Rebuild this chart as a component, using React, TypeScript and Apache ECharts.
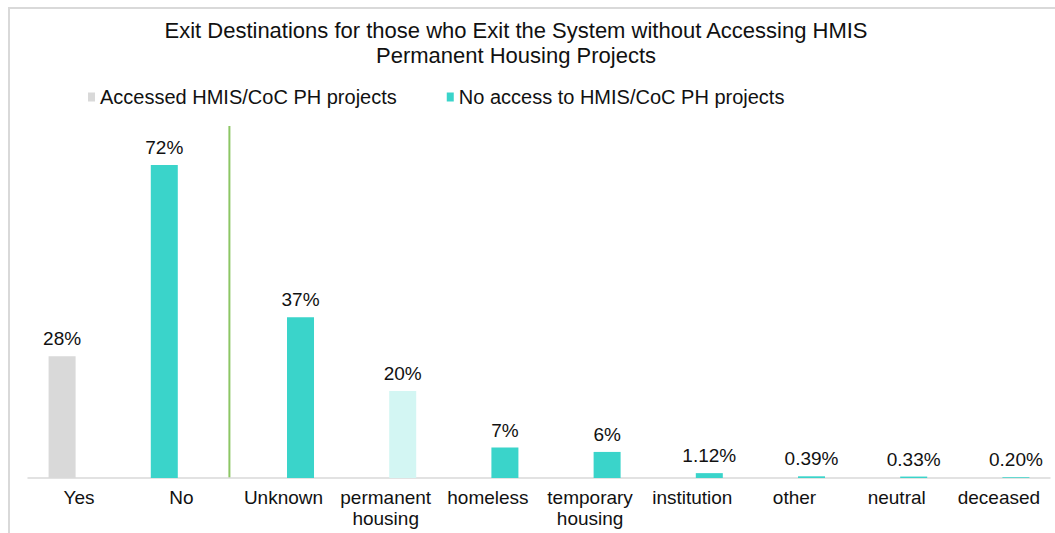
import React, { useEffect, useRef } from "react";
import * as echarts from "echarts";

// Exit destination categories along the x axis
const categories = [
  "Yes",
  "No",
  "Unknown",
  "permanent\nhousing",
  "homeless",
  "temporary\nhousing",
  "institution",
  "other",
  "neutral",
  "deceased",
];

// Left-slot series: share who did / did not access PH projects (%)
const accessValues: (number | null)[] = [28, 72, null, null, null, null, null, null, null, null];

// Right-slot series: exit destinations of those without access (%)
const destinationValues: (number | null)[] = [null, null, 37, 20, 7, 6, 1.12, 0.39, 0.33, 0.2];

const GREY = "#d9d9d9";
const TEAL = "#3ad4ca";
const LIGHT_TEAL = "#d3f6f3";
const DIVIDER = "#8cc665";

const Y_MAX = 81;

const seriesNames = ["Accessed HMIS/CoC PH projects", "No access to HMIS/CoC PH projects"];

const fmt = (v: number) => (v >= 5 ? `${v}%` : `${v.toFixed(2)}%`);

export default function App() {
  const ref = useRef<HTMLDivElement>(null);

  useEffect(() => {
    if (!ref.current) return;
    const chart = echarts.init(ref.current, null, { renderer: "svg" });
    const font = "'Liberation Sans', Arial, Helvetica, sans-serif";

    const accessData = accessValues.map((v, i) =>
      v == null ? null : { value: v, itemStyle: { color: i === 0 ? GREY : TEAL } }
    );
    const destData = destinationValues.map((v, i) =>
      v == null
        ? null
        : { value: v, itemStyle: { color: categories[i].startsWith("permanent") ? LIGHT_TEAL : TEAL } }
    );

    const label = {
      show: true,
      position: "top" as const,
      distance: 8,
      fontSize: 19,
      fontFamily: font,
      color: "#111",
      formatter: (p: any) => fmt(p.value),
    };

    const frame = {
      type: "rect",
      id: "frame",
      shape: { x: 9, y: 8, width: 1100, height: 600 },
      style: { fill: "none", stroke: GREY, lineWidth: 2 },
      silent: true,
    };

    chart.setOption({
      animation: false,
      backgroundColor: "#fff",
      textStyle: { fontFamily: font },
      title: {
        text: "Exit Destinations for those who Exit the System without Accessing HMIS\nPermanent Housing Projects",
        left: 516,
        textAlign: "center",
        top: 18,
        padding: 0,
        textStyle: { fontSize: 22, fontWeight: "normal", color: "#111", lineHeight: 25, fontFamily: font },
      },
      legend: {
        left: 88,
        top: 87,
        padding: 0,
        itemWidth: 7,
        itemHeight: 9,
        itemGap: 50,
        icon: "rect",
        textStyle: { fontSize: 20, color: "#111", fontFamily: font },
        data: [
          { name: seriesNames[0], itemStyle: { color: GREY } },
          { name: seriesNames[1], itemStyle: { color: TEAL } },
        ],
      },
      grid: { left: 28, right: 5, top: 126, bottom: 55, containLabel: false },
      xAxis: {
        type: "category",
        data: categories,
        axisLine: { lineStyle: { color: GREY, width: 1.5 } },
        axisTick: { show: false },
        axisLabel: { fontSize: 19, lineHeight: 21, color: "#111", margin: 9, interval: 0, fontFamily: font },
        splitLine: { show: false },
      },
      yAxis: {
        type: "value",
        min: 0,
        max: Y_MAX,
        show: false,
        splitLine: { show: false },
      },
      graphic: [frame],
      series: [
        {
          name: seriesNames[0],
          type: "bar",
          barWidth: 27,
          barGap: "26%",
          itemStyle: { color: GREY },
          label,
          data: accessData,
        },
        {
          name: seriesNames[1],
          type: "bar",
          barWidth: 27,
          itemStyle: { color: TEAL },
          label,
          data: destData,
        },
      ],
    });

    // Divider between the access split and the destination breakdown
    const xNo = chart.convertToPixel({ xAxisIndex: 0 }, categories[1]) as number;
    const xUnknown = chart.convertToPixel({ xAxisIndex: 0 }, categories[2]) as number;
    const yTop = chart.convertToPixel({ yAxisIndex: 0 }, Y_MAX) as number;
    const yBase = chart.convertToPixel({ yAxisIndex: 0 }, 0) as number;
    const xDiv = (xNo + xUnknown) / 2 - 3;
    chart.setOption({
      graphic: [
        frame,
        {
          type: "line",
          id: "divider",
          shape: { x1: xDiv, y1: yTop, x2: xDiv, y2: yBase },
          style: { stroke: DIVIDER, lineWidth: 2 },
          silent: true,
        },
      ],
    });

    return () => chart.dispose();
  }, []);

  return <div ref={ref} style={{ position: "fixed", left: 0, top: 0, width: 1055, height: 533 }} />;
}
